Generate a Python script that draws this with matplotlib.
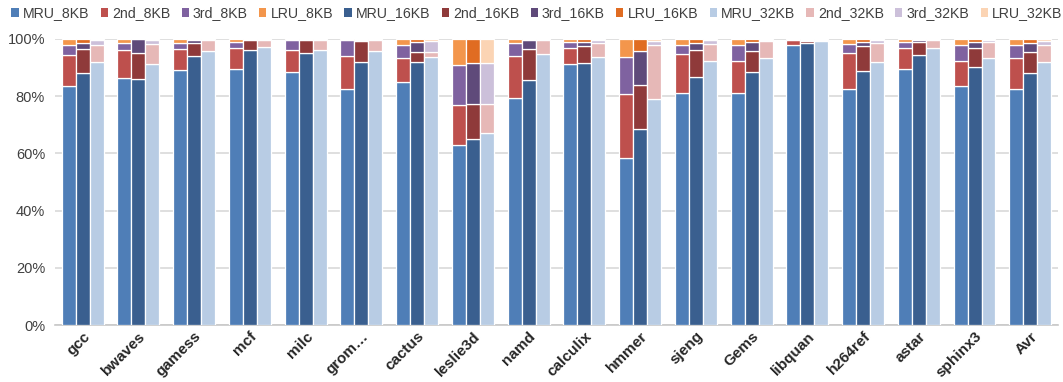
import numpy as np
import matplotlib.pyplot as plt
from matplotlib.patches import Patch

plt.rcParams['font.family'] = ['Liberation Sans', 'DejaVu Sans']

benchmarks = ['gcc', 'bwaves', 'gamess', 'mcf', 'milc', 'grom…', 'cactus', 'leslie3d', 'namd',
              'calculix', 'hmmer', 'sjeng', 'Gems', 'libquan', 'h264ref', 'astar', 'sphinx3', 'Avr']

# hit share per LRU stack position (%), 8KB cache
mru_8 = [83.5, 86.5, 89.0, 89.5, 88.3, 82.5, 84.8, 63.0, 79.2, 91.3, 58.4, 81.2, 81.2, 97.9, 82.4, 89.5, 83.6, 82.4]
sec_8 = [11.0, 9.5, 7.5, 7.5, 8.0, 11.7, 8.4, 13.8, 14.8, 5.7, 22.4, 13.4, 11.2, 1.9, 12.6, 7.2, 8.8, 10.8]
thr_8 = [3.5, 2.5, 2.0, 2.0, 3.5, 5.5, 4.8, 14.0, 4.5, 1.8, 12.8, 3.3, 5.5, 0.1, 3.2, 2.1, 5.4, 4.6]
lru_8 = [2.0, 1.5, 1.5, 1.0, 0.2, 0.3, 2.0, 9.2, 1.5, 1.2, 6.4, 2.1, 2.1, 0.1, 1.8, 1.2, 2.2, 2.2]

# 16KB cache
mru_16 = [88.0, 86.0, 94.0, 96.0, 95.2, 92.0, 92.0, 65.0, 85.7, 91.7, 68.4, 86.8, 88.3, 98.5, 88.8, 94.4, 90.1, 88.0]
sec_16 = [8.5, 9.0, 4.5, 3.5, 4.5, 7.3, 3.3, 12.3, 10.8, 5.7, 15.5, 9.4, 7.6, 0.8, 8.6, 4.6, 6.9, 7.3]
thr_16 = [2.0, 5.0, 1.0, 0.5, 0.3, 0.5, 3.5, 14.2, 3.2, 1.5, 11.9, 2.3, 2.9, 0.5, 1.6, 0.6, 2.1, 3.2]
lru_16 = [1.5, 0.0, 0.5, 0.0, 0.0, 0.2, 1.2, 8.5, 0.3, 1.1, 4.2, 1.5, 1.2, 0.2, 1.0, 0.4, 0.9, 1.5]

# 32KB cache
mru_32 = [92.0, 91.3, 95.8, 97.3, 96.0, 95.8, 93.6, 67.3, 94.6, 93.6, 78.9, 92.4, 93.2, 99.3, 92.0, 97.0, 93.5, 91.8]
sec_32 = [6.0, 7.0, 4.0, 2.5, 3.8, 4.0, 2.0, 10.0, 5.0, 4.9, 18.9, 5.8, 6.0, 0.5, 6.5, 2.5, 5.3, 6.1]
thr_32 = [1.5, 1.5, 0.2, 0.2, 0.2, 0.2, 3.7, 14.2, 0.4, 1.0, 1.5, 1.3, 0.6, 0.2, 1.0, 0.4, 1.0, 1.5]
lru_32 = [0.5, 0.2, 0.0, 0.0, 0.0, 0.0, 0.7, 8.5, 0.0, 0.5, 0.7, 0.5, 0.2, 0.0, 0.5, 0.1, 0.2, 0.6]

positions = ['MRU', '2nd', '3rd', 'LRU']
sizes = ['8KB', '16KB', '32KB']
stacks = {
    '8KB': [mru_8, sec_8, thr_8, lru_8],
    '16KB': [mru_16, sec_16, thr_16, lru_16],
    '32KB': [mru_32, sec_32, thr_32, lru_32],
}
colors = {
    '8KB': ['#4F7EB7', '#BE504D', '#7F62A0', '#F3964C'],
    '16KB': ['#3A5F8F', '#8F3A3A', '#5F4A7A', '#E06C22'],
    '32KB': ['#B8CCE4', '#E6B8B7', '#CCC0DA', '#FBD4B4'],
}

fig = plt.figure(figsize=(10.63, 3.82), dpi=100)
ax = fig.add_axes([0.0515, 0.149, 0.944, 0.749])

x = np.arange(len(benchmarks))
w = 0.25
for k, size in enumerate(sizes):
    bottom = np.zeros(len(benchmarks))
    for j, vals in enumerate(stacks[size]):
        vals = np.array(vals)
        ax.bar(x + (k - 1) * w, vals, w, bottom=bottom, color=colors[size][j],
               edgecolor='white', linewidth=0.9, zorder=3)
        bottom += vals

ax.set_xlim(-0.5, len(benchmarks) - 0.5)
ax.set_ylim(0, 100)
ax.set_yticks(np.arange(0, 101, 20))
ax.set_yticklabels([f'{v}%' for v in range(0, 101, 20)], fontsize=10.5, color='#404040')
ax.yaxis.grid(True, color='#D9D9D9', linewidth=1.2, zorder=0)
ax.tick_params(axis='y', length=0, pad=7)
ax.tick_params(axis='x', length=0, pad=3)
ax.set_xticks(x)
ax.set_xticklabels(benchmarks, rotation=45, ha='right', rotation_mode='anchor',
                   fontsize=11, color='#262626', weight='bold')
for s in ['top', 'right', 'left']:
    ax.spines[s].set_visible(False)
ax.spines['bottom'].set_color('#C8C8C8')
ax.spines['bottom'].set_linewidth(1.2)

handles = []
for size in sizes:
    for j, p in enumerate(positions):
        handles.append(Patch(facecolor=colors[size][j], edgecolor='none', label=f'{p}_{size}'))
fig.legend(handles=handles, loc='upper center', bbox_to_anchor=(0.505, 1.017), ncol=12,
           frameon=False, fontsize=10.2, handlelength=0.5, handleheight=0.6,
           handletextpad=0.3, columnspacing=0.8, labelcolor='#404040')

fig.savefig('out.png', dpi=100)
